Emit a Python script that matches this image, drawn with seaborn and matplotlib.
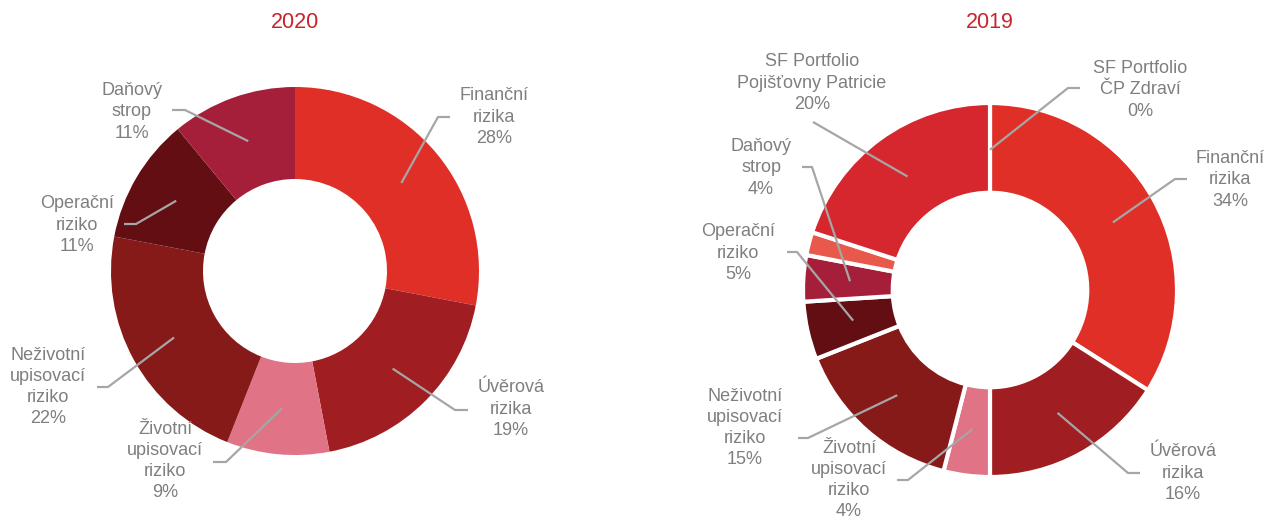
import matplotlib

matplotlib.use("Agg")
import numpy as np
import seaborn as sns
from matplotlib import pyplot as plt

sns.set_theme(style="white")
plt.rcParams["font.family"] = ["Liberation Sans", "DejaVu Sans"]

W, H = 1267, 517

# data
years = ["2020", "2019"]

names_2020 = [
    "Finanční\nrizika",
    "Úvěrová\nrizika",
    "Životní\nupisovací\nriziko",
    "Neživotní\nupisovací\nriziko",
    "Operační\nriziko",
    "Daňový\nstrop",
]
values_2020 = [28, 19, 9, 22, 11, 11]

names_2019 = [
    "SF Portfolio\nČP Zdraví",
    "Finanční\nrizika",
    "Úvěrová\nrizika",
    "Životní\nupisovací\nriziko",
    "Neživotní\nupisovací\nriziko",
    "Operační\nriziko",
    "Daňový\nstrop",
    "",
    "SF Portfolio\nPojišťovny Patricie",
]
values_2019 = [0, 34, 16, 4, 15, 5, 4, 2, 20]

colors_2020 = ["#E02F27", "#A01D21", "#E07386", "#861A18", "#620E13", "#A61F3A"]
colors_2019 = ["#C8232C", "#E02F27", "#A01D21", "#E07386", "#861A18", "#620E13",
               "#A61F3A", "#E8594B", "#D5272D"]

# layout (image pixel coords): text centre, line start, elbow length
layout_2020 = [
    ((494, 117), (450, 117), -12),
    ((511, 409), (468, 410), -13),
    ((165, 461), (213, 462), 13),
    ((48, 387), (97, 387), 11),
    ((77, 225), (124, 224), 12),
    ((132, 112), (172, 110), 13),
]
layout_2019 = [
    ((1140, 90), (1080, 88), -12),
    ((1230, 180), (1187, 179), -12),
    ((1183, 473), (1140, 473), -12),
    ((849, 480), (897, 480), 11),
    ((745, 428), (798, 438), 10),
    ((738, 253), (787, 252), 10),
    ((761, 168), (802, 167), 10),
    None,
    ((812, 83), (813, 122), 0),
]

TEXT = "#7F7F7F"
LINE = "#A6A6A6"

fig = plt.figure(figsize=(W / 100, H / 100), dpi=100)
ax = fig.add_axes([0, 0, 1, 1])


def donut(values, names, colors, layout, cx, cy, r, hole, edge):
    wedges, _ = ax.pie(
        values,
        colors=colors,
        startangle=90,
        counterclock=False,
        center=(cx, H - cy),
        radius=r,
        wedgeprops=dict(width=r * (1 - hole), edgecolor="white", linewidth=edge),
    )
    for w, name, v, lay in zip(wedges, names, values, layout):
        if lay is None:
            continue
        (tx, ty), (lx, ly), elbow = lay
        mid = np.deg2rad((w.theta1 + w.theta2) / 2)
        px = cx + 0.75 * r * np.cos(mid)
        py = (H - cy) + 0.75 * r * np.sin(mid)
        ax.plot([lx, lx + elbow, px], [H - ly, H - ly, py],
                color=LINE, lw=1.6, solid_capstyle="butt", zorder=5)
        ax.text(tx, H - ty, f"{name}\n{v}%", ha="center", va="center",
                fontsize=13, color=TEXT, linespacing=1.33, zorder=6)


donut(values_2020, names_2020, colors_2020, layout_2020, 295, 271, 184, 0.5, 0)
donut(values_2019, names_2019, colors_2019, layout_2019, 990, 290, 187, 0.52, 3)

ax.text(295, H - 23, years[0], ha="center", va="center", fontsize=15.5, color="#C8232C")
ax.text(990, H - 23, years[1], ha="center", va="center", fontsize=15.5, color="#C8232C")

ax.set_xlim(0, W)
ax.set_ylim(0, H)
ax.set_aspect("equal")
ax.axis("off")

fig.savefig("out.png", dpi=100)
